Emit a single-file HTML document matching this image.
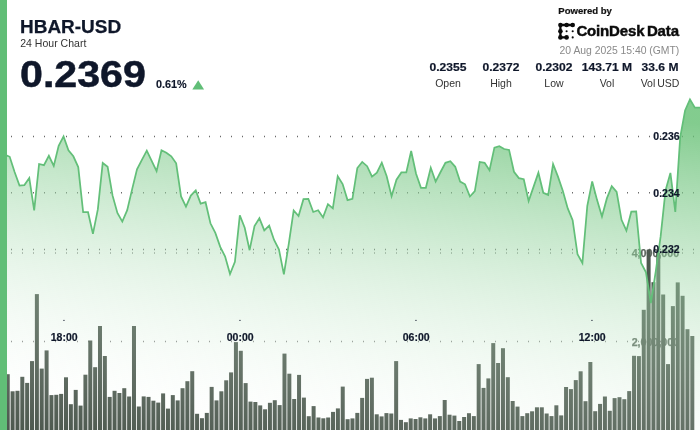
<!DOCTYPE html>
<html><head><meta charset="utf-8"><title>HBAR-USD</title>
<style>
html,body{margin:0;padding:0;background:#fff;}
body{width:700px;height:430px;overflow:hidden;position:relative;font-family:"Liberation Sans",sans-serif;color:#0f172a;}
.abs{position:absolute;white-space:nowrap;line-height:1;}
svg{position:absolute;left:0;top:0;}
svg text{font-family:"Liberation Sans",sans-serif;}
.ax{font-size:10.5px;font-weight:bold;fill:#0f172a;stroke:#0f172a;stroke-width:0.2px;}
.vx{font-size:10.7px;font-weight:bold;fill:#5a665c;stroke:#5a665c;stroke-width:0.25px;}
.strip{position:absolute;left:0;top:0;width:7.45px;height:430px;background:#61be77;}
.t1{left:19.8px;top:17.8px;font-size:18px;font-weight:bold;transform:scaleX(1.054);transform-origin:0 0;-webkit-text-stroke:0.25px #0f172a;}
.t2{left:20.2px;top:38.4px;font-size:10.5px;color:#333;letter-spacing:0.02px;}
.t3{left:19.6px;top:56.1px;font-size:37px;font-weight:bold;transform:scaleX(1.112);transform-origin:0 0;-webkit-text-stroke:0.5px #0f172a;}
.t4{left:156.0px;top:78.8px;font-size:10.5px;font-weight:bold;transform:scaleX(1.03);transform-origin:0 0;-webkit-text-stroke:0.15px #0f172a;}
.pb{left:558.3px;top:6.1px;font-size:9.6px;font-weight:bold;color:#111;letter-spacing:-0.03px;-webkit-text-stroke:0.2px #111;}
.cd{left:576.4px;top:23.4px;font-size:15px;font-weight:bold;color:#0b0b0b;letter-spacing:-0.15px;-webkit-text-stroke:0.45px #0b0b0b;}
.dt{left:559.6px;top:46.0px;font-size:10.4px;color:#8a8a8a;letter-spacing:-0.02px;}
  .sv{top:61.9px;font-size:11.4px;font-weight:bold;text-align:center;width:80px;transform:scaleX(1.06);transform-origin:50% 0;-webkit-text-stroke:0.2px #0f172a;}
.sl{top:77.6px;font-size:10.5px;color:#333;text-align:center;width:80px;word-spacing:-1px;}
</style></head><body><div id="w" style="position:absolute;left:0;top:0;width:700px;height:430px;will-change:transform;">
<svg width="700" height="430" viewBox="0 0 700 430">
<defs><linearGradient id="g" gradientUnits="userSpaceOnUse" x1="700" y1="123" x2="654.6" y2="507.2">
<stop offset="0" stop-color="#61be70" stop-opacity="0.79"/>
<stop offset="1" stop-color="#ffffff" stop-opacity="0"/></linearGradient></defs>
<line x1="11" x2="700" y1="136.4" y2="136.4" stroke="#6a6a6a" stroke-opacity="1" stroke-width="1.5" stroke-dasharray="1 10"/><line x1="11" x2="700" y1="192.8" y2="192.8" stroke="#6a6a6a" stroke-opacity="1" stroke-width="1.5" stroke-dasharray="1 10"/><line x1="11" x2="700" y1="249.4" y2="249.4" stroke="#6a6a6a" stroke-opacity="1" stroke-width="1.5" stroke-dasharray="1 10"/><line x1="11" x2="700" y1="252.9" y2="252.9" stroke="#777" stroke-opacity="0.85" stroke-width="1.5" stroke-dasharray="1 10"/><line x1="11" x2="700" y1="341.5" y2="341.5" stroke="#777" stroke-opacity="0.85" stroke-width="1.5" stroke-dasharray="1 10"/>
<text x="679.2" y="257.4" text-anchor="end" class="vx">4,000,000</text><text x="679.2" y="345.6" text-anchor="end" class="vx">2,000,000</text>
<g fill="#4c584e" fill-opacity="1.0"><rect x="5.74" y="374.2" width="4.0" height="55.8"/><rect x="10.60" y="391.3" width="4.0" height="38.7"/><rect x="15.46" y="390.8" width="4.0" height="39.2"/><rect x="20.31" y="376.8" width="4.0" height="53.2"/><rect x="25.16" y="382.9" width="4.0" height="47.1"/><rect x="30.02" y="361.1" width="4.0" height="68.9"/><rect x="34.88" y="294.1" width="4.0" height="135.9"/><rect x="39.73" y="368.6" width="4.0" height="61.4"/><rect x="44.59" y="350.4" width="4.0" height="79.6"/><rect x="49.44" y="395.1" width="4.0" height="34.9"/><rect x="54.30" y="394.8" width="4.0" height="35.2"/><rect x="59.15" y="393.9" width="4.0" height="36.1"/><rect x="64.00" y="377.3" width="4.0" height="52.7"/><rect x="68.86" y="404.2" width="4.0" height="25.8"/><rect x="73.72" y="389.9" width="4.0" height="40.1"/><rect x="78.57" y="405.6" width="4.0" height="24.4"/><rect x="83.42" y="374.7" width="4.0" height="55.3"/><rect x="88.28" y="340.5" width="4.0" height="89.5"/><rect x="93.14" y="367.2" width="4.0" height="62.8"/><rect x="97.99" y="326.0" width="4.0" height="104.0"/><rect x="102.84" y="356.0" width="4.0" height="74.0"/><rect x="107.70" y="396.9" width="4.0" height="33.1"/><rect x="112.56" y="390.8" width="4.0" height="39.2"/><rect x="117.41" y="393.0" width="4.0" height="37.0"/><rect x="122.27" y="388.2" width="4.0" height="41.8"/><rect x="127.12" y="396.5" width="4.0" height="33.5"/><rect x="131.98" y="326.0" width="4.0" height="104.0"/><rect x="136.83" y="406.5" width="4.0" height="23.5"/><rect x="141.69" y="396.4" width="4.0" height="33.6"/><rect x="146.54" y="396.9" width="4.0" height="33.1"/><rect x="151.40" y="400.7" width="4.0" height="29.3"/><rect x="156.25" y="402.6" width="4.0" height="27.4"/><rect x="161.11" y="393.4" width="4.0" height="36.6"/><rect x="165.96" y="408.6" width="4.0" height="21.4"/><rect x="170.81" y="395.1" width="4.0" height="34.9"/><rect x="175.67" y="400.4" width="4.0" height="29.6"/><rect x="180.53" y="388.2" width="4.0" height="41.8"/><rect x="185.38" y="381.2" width="4.0" height="48.8"/><rect x="190.24" y="371.2" width="4.0" height="58.8"/><rect x="195.09" y="413.8" width="4.0" height="16.2"/><rect x="199.95" y="418.2" width="4.0" height="11.8"/><rect x="204.80" y="412.9" width="4.0" height="17.1"/><rect x="209.66" y="386.9" width="4.0" height="43.1"/><rect x="214.51" y="400.4" width="4.0" height="29.6"/><rect x="219.37" y="391.3" width="4.0" height="38.7"/><rect x="224.22" y="380.3" width="4.0" height="49.7"/><rect x="229.08" y="372.4" width="4.0" height="57.6"/><rect x="233.93" y="342.1" width="4.0" height="87.9"/><rect x="238.79" y="350.8" width="4.0" height="79.2"/><rect x="243.64" y="383.1" width="4.0" height="46.9"/><rect x="248.50" y="401.6" width="4.0" height="28.4"/><rect x="253.35" y="402.0" width="4.0" height="28.0"/><rect x="258.21" y="405.4" width="4.0" height="24.6"/><rect x="263.06" y="409.3" width="4.0" height="20.7"/><rect x="267.92" y="402.8" width="4.0" height="27.2"/><rect x="272.77" y="400.2" width="4.0" height="29.8"/><rect x="277.63" y="405.1" width="4.0" height="24.9"/><rect x="282.48" y="353.6" width="4.0" height="76.4"/><rect x="287.34" y="373.7" width="4.0" height="56.3"/><rect x="292.19" y="399.0" width="4.0" height="31.0"/><rect x="297.05" y="374.9" width="4.0" height="55.1"/><rect x="301.90" y="397.6" width="4.0" height="32.4"/><rect x="306.76" y="416.2" width="4.0" height="13.8"/><rect x="311.61" y="406.1" width="4.0" height="23.9"/><rect x="316.47" y="417.5" width="4.0" height="12.5"/><rect x="321.32" y="418.3" width="4.0" height="11.7"/><rect x="326.18" y="417.5" width="4.0" height="12.5"/><rect x="331.03" y="411.9" width="4.0" height="18.1"/><rect x="335.89" y="408.4" width="4.0" height="21.6"/><rect x="340.74" y="386.6" width="4.0" height="43.4"/><rect x="345.60" y="419.2" width="4.0" height="10.8"/><rect x="350.45" y="418.4" width="4.0" height="11.6"/><rect x="355.31" y="412.9" width="4.0" height="17.1"/><rect x="360.16" y="397.9" width="4.0" height="32.1"/><rect x="365.02" y="378.9" width="4.0" height="51.1"/><rect x="369.87" y="377.7" width="4.0" height="52.3"/><rect x="374.73" y="414.3" width="4.0" height="15.7"/><rect x="379.58" y="416.4" width="4.0" height="13.6"/><rect x="384.44" y="413.1" width="4.0" height="16.9"/><rect x="389.29" y="413.5" width="4.0" height="16.5"/><rect x="394.15" y="361.1" width="4.0" height="68.9"/><rect x="399.00" y="419.9" width="4.0" height="10.1"/><rect x="403.86" y="422.2" width="4.0" height="7.8"/><rect x="408.71" y="418.4" width="4.0" height="11.6"/><rect x="413.57" y="419.0" width="4.0" height="11.0"/><rect x="418.42" y="417.3" width="4.0" height="12.7"/><rect x="423.28" y="418.4" width="4.0" height="11.6"/><rect x="428.13" y="414.3" width="4.0" height="15.7"/><rect x="432.99" y="418.4" width="4.0" height="11.6"/><rect x="437.84" y="416.1" width="4.0" height="13.9"/><rect x="442.70" y="400.0" width="4.0" height="30.0"/><rect x="447.55" y="414.7" width="4.0" height="15.3"/><rect x="452.41" y="415.6" width="4.0" height="14.4"/><rect x="457.26" y="421.0" width="4.0" height="9.0"/><rect x="462.12" y="417.0" width="4.0" height="13.0"/><rect x="466.97" y="413.2" width="4.0" height="16.8"/><rect x="471.83" y="416.1" width="4.0" height="13.9"/><rect x="476.68" y="364.1" width="4.0" height="65.9"/><rect x="481.54" y="387.9" width="4.0" height="42.1"/><rect x="486.39" y="378.4" width="4.0" height="51.6"/><rect x="491.25" y="343.1" width="4.0" height="86.9"/><rect x="496.10" y="363.0" width="4.0" height="67.0"/><rect x="500.96" y="348.2" width="4.0" height="81.8"/><rect x="505.81" y="377.2" width="4.0" height="52.8"/><rect x="510.67" y="401.0" width="4.0" height="29.0"/><rect x="515.52" y="406.6" width="4.0" height="23.4"/><rect x="520.38" y="416.1" width="4.0" height="13.9"/><rect x="525.23" y="413.2" width="4.0" height="16.8"/><rect x="530.09" y="411.3" width="4.0" height="18.7"/><rect x="534.94" y="407.3" width="4.0" height="22.7"/><rect x="539.80" y="407.3" width="4.0" height="22.7"/><rect x="544.65" y="413.5" width="4.0" height="16.5"/><rect x="549.51" y="416.1" width="4.0" height="13.9"/><rect x="554.36" y="405.3" width="4.0" height="24.7"/><rect x="559.22" y="415.4" width="4.0" height="14.6"/><rect x="564.07" y="387.0" width="4.0" height="43.0"/><rect x="568.93" y="389.1" width="4.0" height="40.9"/><rect x="573.78" y="380.1" width="4.0" height="49.9"/><rect x="578.64" y="371.3" width="4.0" height="58.7"/><rect x="583.49" y="401.2" width="4.0" height="28.8"/><rect x="588.35" y="362.0" width="4.0" height="68.0"/><rect x="593.20" y="411.2" width="4.0" height="18.8"/><rect x="598.06" y="403.9" width="4.0" height="26.1"/><rect x="602.91" y="396.5" width="4.0" height="33.5"/><rect x="607.77" y="410.8" width="4.0" height="19.2"/><rect x="612.62" y="398.1" width="4.0" height="31.9"/><rect x="617.48" y="397.2" width="4.0" height="32.8"/><rect x="622.33" y="399.2" width="4.0" height="30.8"/><rect x="627.19" y="391.1" width="4.0" height="38.9"/><rect x="632.04" y="355.8" width="4.0" height="74.2"/><rect x="636.90" y="356.1" width="4.0" height="73.9"/><rect x="641.75" y="309.8" width="4.0" height="120.2"/><rect x="646.61" y="249.8" width="4.0" height="180.2"/><rect x="651.46" y="282.2" width="4.0" height="147.8"/><rect x="656.32" y="253.0" width="4.0" height="177.0"/><rect x="661.17" y="294.5" width="4.0" height="135.5"/><rect x="666.03" y="364.1" width="4.0" height="65.9"/><rect x="670.88" y="306.1" width="4.0" height="123.9"/><rect x="675.74" y="282.4" width="4.0" height="147.6"/><rect x="680.59" y="295.8" width="4.0" height="134.2"/><rect x="685.45" y="329.2" width="4.0" height="100.8"/><rect x="690.30" y="336.0" width="4.0" height="94.0"/></g>
<path d="M4.80,154.60 L9.70,156.80 L14.60,172.00 L19.49,185.60 L24.39,185.10 L29.28,178.10 L34.18,210.40 L39.08,164.00 L43.97,165.20 L48.87,155.80 L53.76,165.90 L58.66,145.90 L63.56,136.40 L68.45,150.20 L73.35,156.30 L78.24,167.10 L83.14,212.20 L88.04,212.20 L92.93,233.80 L97.83,209.40 L102.72,163.00 L107.62,166.80 L112.52,195.40 L117.41,212.90 L122.31,221.60 L127.20,210.20 L132.10,189.40 L137.00,169.40 L141.89,159.80 L146.79,150.70 L151.68,160.90 L156.58,171.20 L161.48,150.20 L166.37,152.80 L171.27,156.30 L176.16,163.30 L181.06,196.50 L185.96,206.70 L190.85,195.60 L195.75,190.40 L200.64,203.60 L205.54,202.20 L210.44,223.30 L215.33,232.90 L220.23,246.90 L225.12,256.50 L230.02,274.10 L234.92,261.90 L239.81,215.30 L244.71,227.80 L249.60,250.20 L254.50,226.10 L259.40,218.20 L264.29,230.40 L269.19,225.70 L274.08,240.00 L278.98,249.60 L283.88,274.40 L288.77,243.90 L293.67,210.40 L298.56,216.00 L303.46,199.20 L308.36,198.90 L313.25,212.00 L318.15,210.20 L323.04,217.40 L327.94,204.20 L332.84,208.40 L337.73,176.20 L342.63,184.00 L347.52,200.10 L352.42,198.90 L357.32,168.00 L362.21,161.90 L367.11,166.20 L372.00,176.70 L376.90,172.70 L381.80,162.70 L386.69,176.20 L391.59,196.20 L396.48,179.70 L401.38,172.40 L406.28,172.40 L411.17,151.00 L416.07,173.80 L420.96,187.80 L425.86,187.80 L430.76,167.70 L435.65,181.60 L440.55,172.00 L445.44,162.80 L450.34,161.20 L455.24,166.80 L460.13,181.60 L465.03,184.30 L469.92,196.50 L474.82,191.20 L479.72,161.90 L484.61,162.80 L489.51,170.30 L494.40,147.60 L499.30,146.20 L504.19,149.00 L509.08,149.90 L513.97,171.80 L518.86,178.10 L523.75,179.20 L528.63,201.00 L533.52,186.90 L538.41,172.70 L543.30,192.80 L548.19,194.90 L553.08,164.00 L557.97,176.60 L562.86,190.90 L567.75,208.40 L572.63,220.20 L577.52,254.30 L582.41,263.00 L587.30,205.80 L592.19,181.50 L597.08,200.10 L601.97,216.60 L606.86,198.40 L611.75,186.20 L616.64,191.90 L621.52,219.80 L626.41,230.70 L631.30,211.70 L636.19,211.50 L641.08,263.00 L645.97,272.40 L650.86,303.00 L655.75,271.40 L660.64,236.40 L665.53,190.40 L670.41,172.90 L675.30,211.90 L680.19,137.40 L685.08,110.40 L689.97,99.40 L694.86,107.70 L699.75,107.70 L703.00,107.70 L703.00,430 L4.80,430 Z" fill="url(#g)"/>
<path d="M4.80,154.60 L9.70,156.80 L14.60,172.00 L19.49,185.60 L24.39,185.10 L29.28,178.10 L34.18,210.40 L39.08,164.00 L43.97,165.20 L48.87,155.80 L53.76,165.90 L58.66,145.90 L63.56,136.40 L68.45,150.20 L73.35,156.30 L78.24,167.10 L83.14,212.20 L88.04,212.20 L92.93,233.80 L97.83,209.40 L102.72,163.00 L107.62,166.80 L112.52,195.40 L117.41,212.90 L122.31,221.60 L127.20,210.20 L132.10,189.40 L137.00,169.40 L141.89,159.80 L146.79,150.70 L151.68,160.90 L156.58,171.20 L161.48,150.20 L166.37,152.80 L171.27,156.30 L176.16,163.30 L181.06,196.50 L185.96,206.70 L190.85,195.60 L195.75,190.40 L200.64,203.60 L205.54,202.20 L210.44,223.30 L215.33,232.90 L220.23,246.90 L225.12,256.50 L230.02,274.10 L234.92,261.90 L239.81,215.30 L244.71,227.80 L249.60,250.20 L254.50,226.10 L259.40,218.20 L264.29,230.40 L269.19,225.70 L274.08,240.00 L278.98,249.60 L283.88,274.40 L288.77,243.90 L293.67,210.40 L298.56,216.00 L303.46,199.20 L308.36,198.90 L313.25,212.00 L318.15,210.20 L323.04,217.40 L327.94,204.20 L332.84,208.40 L337.73,176.20 L342.63,184.00 L347.52,200.10 L352.42,198.90 L357.32,168.00 L362.21,161.90 L367.11,166.20 L372.00,176.70 L376.90,172.70 L381.80,162.70 L386.69,176.20 L391.59,196.20 L396.48,179.70 L401.38,172.40 L406.28,172.40 L411.17,151.00 L416.07,173.80 L420.96,187.80 L425.86,187.80 L430.76,167.70 L435.65,181.60 L440.55,172.00 L445.44,162.80 L450.34,161.20 L455.24,166.80 L460.13,181.60 L465.03,184.30 L469.92,196.50 L474.82,191.20 L479.72,161.90 L484.61,162.80 L489.51,170.30 L494.40,147.60 L499.30,146.20 L504.19,149.00 L509.08,149.90 L513.97,171.80 L518.86,178.10 L523.75,179.20 L528.63,201.00 L533.52,186.90 L538.41,172.70 L543.30,192.80 L548.19,194.90 L553.08,164.00 L557.97,176.60 L562.86,190.90 L567.75,208.40 L572.63,220.20 L577.52,254.30 L582.41,263.00 L587.30,205.80 L592.19,181.50 L597.08,200.10 L601.97,216.60 L606.86,198.40 L611.75,186.20 L616.64,191.90 L621.52,219.80 L626.41,230.70 L631.30,211.70 L636.19,211.50 L641.08,263.00 L645.97,272.40 L650.86,303.00 L655.75,271.40 L660.64,236.40 L665.53,190.40 L670.41,172.90 L675.30,211.90 L680.19,137.40 L685.08,110.40 L689.97,99.40 L694.86,107.70 L699.75,107.70 L703.00,107.70" fill="none" stroke="#63bf79" stroke-width="1.75" stroke-linejoin="miter"/>
<rect x="63.3" y="319.9" width="1.3" height="0.9" fill="#0f172a"/><rect x="239.3" y="319.9" width="1.3" height="0.9" fill="#0f172a"/><rect x="415.3" y="319.9" width="1.3" height="0.9" fill="#0f172a"/><rect x="591.3" y="319.9" width="1.3" height="0.9" fill="#0f172a"/><text x="64.2" y="340.8" text-anchor="middle" class="ax">18:00</text><text x="240.2" y="340.8" text-anchor="middle" class="ax">00:00</text><text x="416.2" y="340.8" text-anchor="middle" class="ax">06:00</text><text x="592.2" y="340.8" text-anchor="middle" class="ax">12:00</text><text x="679.6" y="139.9" text-anchor="end" class="ax">0.236</text><text x="679.6" y="196.5" text-anchor="end" class="ax">0.234</text><text x="679.6" y="253.20000000000002" text-anchor="end" class="ax">0.232</text>
<polygon points="192.3,89.6 204.1,89.6 198.2,80.2" fill="#61be77"/>
<g fill="#0b0b0b" stroke="#0b0b0b"><!-- logo -->
<path d="M572.7,25.0H560.4V37.4H566.6" fill="none" stroke-width="2.3" stroke-linecap="round" stroke-linejoin="round"/>
<g stroke="none"><circle cx="560.4" cy="25.0" r="2.3"/><circle cx="566.6" cy="25.0" r="2.3"/><circle cx="572.7" cy="25.0" r="2.3"/><circle cx="560.4" cy="31.3" r="2.3"/><circle cx="560.4" cy="37.4" r="2.3"/><circle cx="566.6" cy="37.4" r="2.3"/>
<circle cx="566.6" cy="31.3" r="1.05"/><circle cx="572.7" cy="31.3" r="1.05"/><circle cx="572.7" cy="37.4" r="1.05"/></g>
</g>
</svg>
<div class="strip"></div>
<div class="abs t1">HBAR-USD</div>
<div class="abs t2">24 Hour Chart</div>
<div class="abs t3">0.2369</div>
<div class="abs t4">0.61%</div>
<div class="abs pb">Powered by</div>
<div class="abs cd">CoinDesk<span style="margin-left:-1.5px"> Data</span></div>
<div class="abs dt">20 Aug 2025 15:40 (GMT)</div>
<div class="abs sv" style="left:408px">0.2355</div><div class="abs sl" style="left:408px">Open</div>
<div class="abs sv" style="left:461px">0.2372</div><div class="abs sl" style="left:461px">High</div>
<div class="abs sv" style="left:514px">0.2302</div><div class="abs sl" style="left:514px">Low</div>
<div class="abs sv" style="left:567px">143.71 M</div><div class="abs sl" style="left:567px">Vol</div>
<div class="abs sv" style="left:620px">33.6 M</div><div class="abs sl" style="left:620px">Vol USD</div>
</div></body></html>
